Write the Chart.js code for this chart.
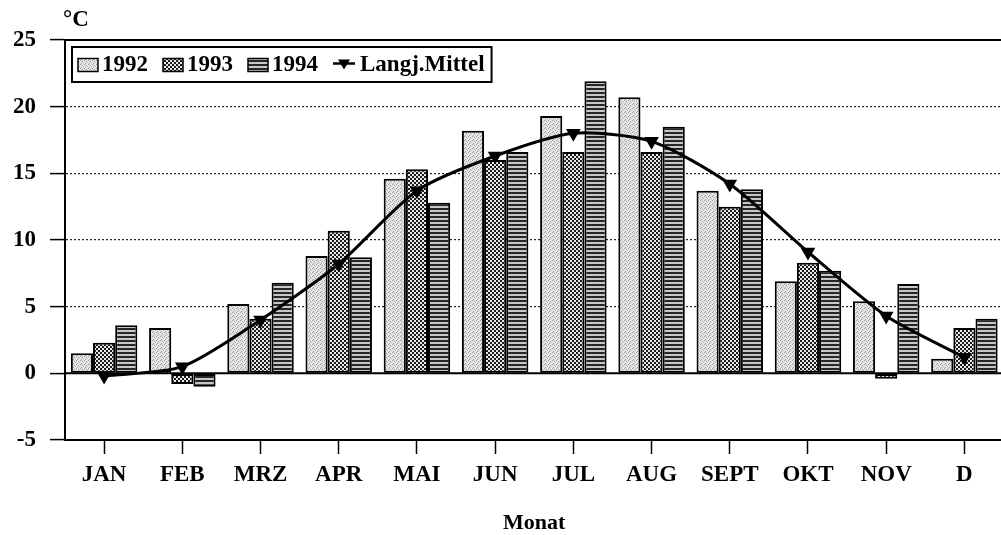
<!DOCTYPE html>
<html>
<head>
<meta charset="utf-8">
<script src="https://cdn.jsdelivr.net/npm/chart.js@4.4.1/dist/chart.umd.min.js"></script>
<style>
    body { margin: 0; background: #fff; }
    #wrap { width: 1001px; height: 535px; overflow: hidden; background: #fff; }
</style>
</head>
<body>
<div id="wrap"><canvas id="myChart" width="1012" height="535"></canvas></div>
<script>
// monthly mean temperatures
const months = ['JAN', 'FEB', 'MRZ', 'APR', 'MAI', 'JUN', 'JUL', 'AUG', 'SEPT', 'OKT', 'NOV', 'D']
const t1992 = [1.5, 3.4, 5.2, 8.8, 14.6, 18.2, 19.3, 20.7, 13.7, 6.9, 5.4, 1.1]
const t1993 = [2.3, -0.8, 4.1, 10.7, 15.3, 16.0, 16.6, 16.6, 12.5, 8.3, -0.4, 3.4]
const t1994 = [3.6, -1.0, 6.8, 8.7, 12.8, 16.6, 21.9, 18.5, 13.8, 7.7, 6.7, 4.1]
const mittel = [-0.2, 0.5, 4.0, 8.2, 13.7, 16.3, 18.0, 17.4, 14.2, 9.1, 4.3, 1.2]
const yTicks = [-5, 0, 5, 10, 15, 20, 25]
const seriesNames = ['1992', '1993', '1994', 'Langj.Mittel']

const serif = '"Liberation Serif", "Times New Roman", serif'

function makePattern(w, h, paint) {
    const c = document.createElement('canvas')
    c.width = w
    c.height = h
    const g = c.getContext('2d')
    paint(g)
    return g.createPattern(c, 'repeat')
}

// stipple for 1992
const dotted = makePattern(4, 4, g => {
    g.fillStyle = '#e6e6e6'
    g.fillRect(0, 0, 4, 4)
    g.fillStyle = '#999'
    g.fillRect(0, 0, 1, 1)
    g.fillRect(2, 1, 1, 1)
    g.fillRect(1, 3, 1, 1)
    g.fillStyle = '#c0c0c0'
    g.fillRect(3, 2, 1, 1)
})
// checker for 1993
const checker = makePattern(4, 4, g => {
    g.fillStyle = '#e8e8e8'
    g.fillRect(0, 0, 4, 4)
    g.fillStyle = '#1c1c1c'
    g.fillRect(0, 0, 2, 2)
    g.fillRect(2, 2, 2, 2)
})
// horizontal stripes for 1994
const stripes = makePattern(4, 4, g => {
    g.fillStyle = '#c8c8c8'
    g.fillRect(0, 0, 4, 4)
    g.fillStyle = '#262626'
    g.fillRect(0, 0, 4, 2)
})
const fills = [dotted, checker, stripes]

// solid lines at 0 and at the top of the plot
const frameLines = {
    id: 'frameLines',
    beforeDatasetsDraw(chart) {
        const { ctx, chartArea, scales } = chart
        ctx.save()
        ctx.strokeStyle = '#000'
        ctx.lineWidth = 2
        ;[0, 25].forEach(v => {
            const y = scales.y.getPixelForValue(v)
            ctx.beginPath()
            ctx.moveTo(chartArea.left, y)
            ctx.lineTo(chartArea.right, y)
            ctx.stroke()
        })
        ctx.restore()
    }
}

// boxed legend inside the plot + unit label
const boxLegend = {
    id: 'boxLegend',
    afterDraw(chart) {
        const { ctx, chartArea } = chart
        ctx.save()
        ctx.font = 'bold 23px ' + serif
        ctx.fillStyle = '#000'
        ctx.textBaseline = 'middle'
        ctx.fillText('°C', chartArea.left - 2, 20)

        const x0 = chartArea.left + 7
        const y0 = chartArea.top + 7
        const h = 35
        const ym = y0 + h / 2 + 1
        let x = x0 + 6
        seriesNames.forEach((name, i) => {
            if (i < 3) {
                ctx.fillStyle = fills[i]
                ctx.fillRect(x, ym - 7, 20, 13)
                ctx.strokeStyle = '#000'
                ctx.lineWidth = 1.5
                ctx.strokeRect(x, ym - 7, 20, 13)
                x += 24
            } else {
                ctx.strokeStyle = '#000'
                ctx.lineWidth = 2.5
                ctx.beginPath()
                ctx.moveTo(x, ym - 2)
                ctx.lineTo(x + 22, ym - 2)
                ctx.stroke()
                ctx.fillStyle = '#000'
                ctx.beginPath()
                ctx.moveTo(x + 5, ym - 6)
                ctx.lineTo(x + 17, ym - 6)
                ctx.lineTo(x + 11, ym + 4)
                ctx.closePath()
                ctx.fill()
                x += 27
            }
            ctx.fillStyle = '#000'
            ctx.fillText(name, x, ym)
            x += ctx.measureText(name).width + 15
        })
        ctx.strokeStyle = '#000'
        ctx.lineWidth = 2
        ctx.strokeRect(x0, y0, x - 15 + 7 - x0, h)
        ctx.restore()
    }
}

const barSet = (label, data, i) => ({
    type: 'bar',
    label: label,
    data: data,
    backgroundColor: fills[i],
    borderColor: '#000',
    borderWidth: 2,
    borderSkipped: false,
    categoryPercentage: 0.85,
    barPercentage: 1.0,
    order: 1
})

new Chart(document.getElementById('myChart').getContext('2d'), {
    data: {
        labels: months,
        datasets: [
            barSet(seriesNames[0], t1992, 0),
            barSet(seriesNames[1], t1993, 1),
            barSet(seriesNames[2], t1994, 2),
            {
                type: 'line',
                label: seriesNames[3],
                data: mittel,
                borderColor: '#000',
                borderWidth: 3,
                tension: 0.25,
                pointStyle: 'triangle',
                pointRotation: 180,
                pointRadius: 5.5,
                pointBackgroundColor: '#000',
                pointBorderColor: '#000',
                order: 0
            }
        ]
    },
    options: {
        responsive: false,
        animation: false,
        layout: { padding: { top: 40, right: 3, left: 0, bottom: 0 } },
        plugins: {
            legend: { display: false },
            tooltip: { enabled: false }
        },
        scales: {
            x: {
                offset: true,
                grid: {
                    offset: false,
                    drawOnChartArea: false,
                    drawTicks: true,
                    tickLength: 14,
                    tickColor: '#000',
                    tickWidth: 1.5
                },
                border: { color: '#000', width: 2 },
                ticks: {
                    color: '#000',
                    font: { family: serif, size: 23, weight: 'bold' },
                    padding: 7,
                    autoSkip: false,
                    maxRotation: 0
                },
                title: {
                    display: true,
                    text: 'Monat',
                    color: '#000',
                    font: { family: serif, size: 22, weight: 'bold', lineHeight: 1 },
                    padding: { top: 0, bottom: 1 }
                },
                afterFit(scale) { scale.height = 95 }
            },
            y: {
                min: -5,
                max: 25,
                afterBuildTicks(scale) {
                    scale.ticks = yTicks.map(v => ({ value: v }))
                },
                grid: {
                    color: ctx => (ctx.tick && [5, 10, 15, 20].includes(ctx.tick.value)) ? '#222' : 'rgba(0,0,0,0)',
                    lineWidth: 1.2,
                    tickColor: '#000',
                    tickLength: 15,
                    tickWidth: 1.5
                },
                border: { color: '#000', width: 2, dash: [2, 2] },
                ticks: {
                    color: '#000',
                    font: { family: serif, size: 23, weight: 'bold' },
                    padding: 14
                },
                afterFit(scale) { scale.width = 65 }
            }
        }
    },
    plugins: [frameLines, boxLegend]
})
</script>
</body>
</html>
